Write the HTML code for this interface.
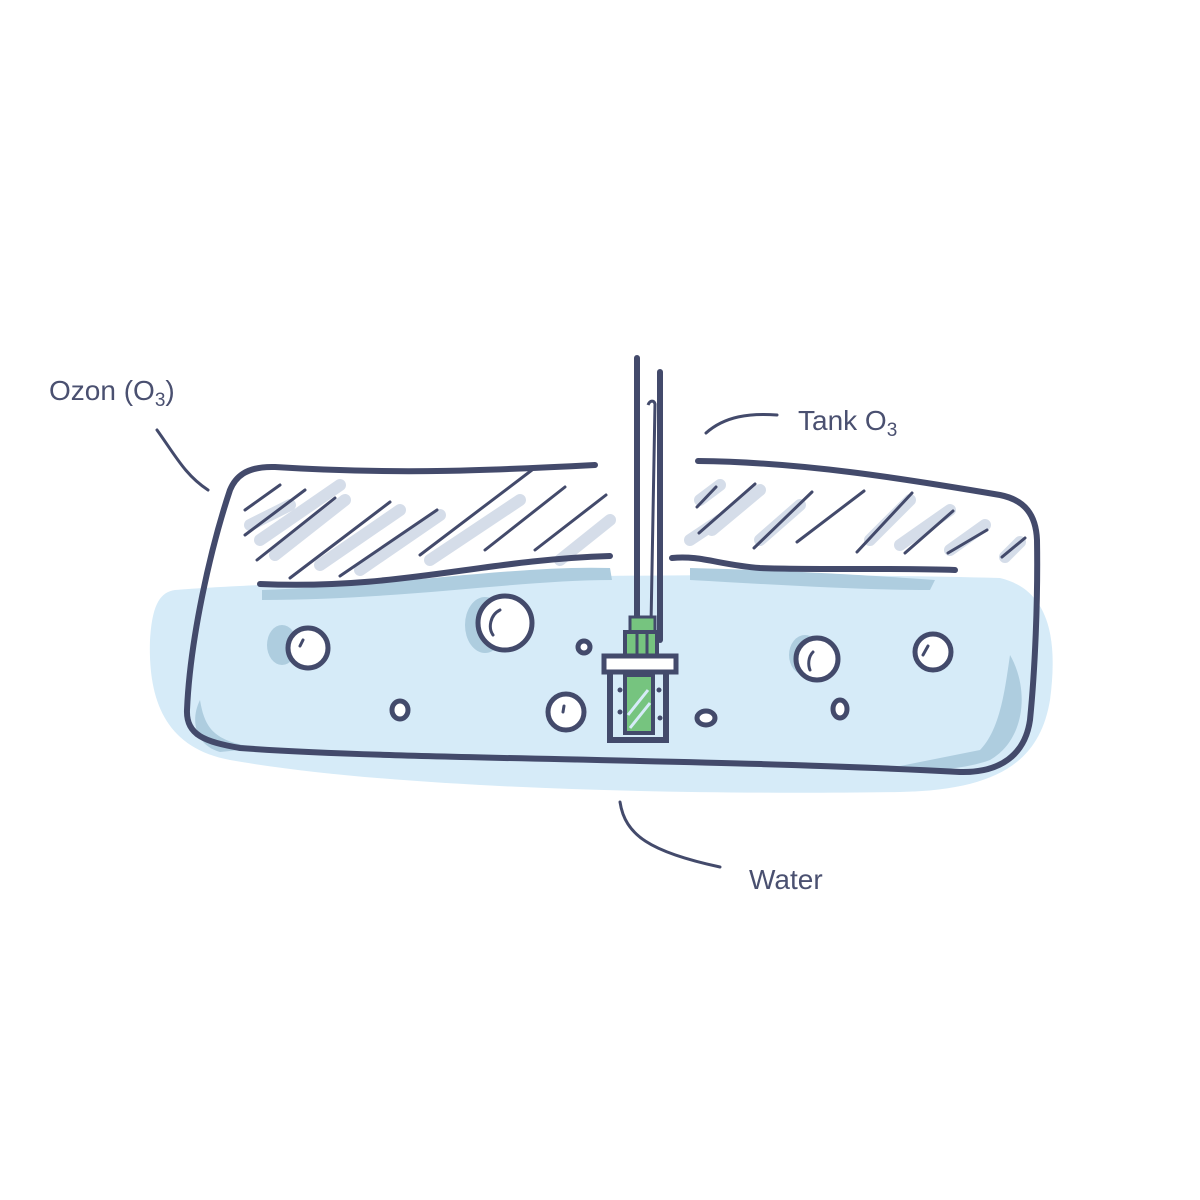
<!DOCTYPE html>
<html><head><meta charset="utf-8"><style>
html,body{margin:0;padding:0;background:#fff;}
svg{display:block}
text{font-family:"Liberation Sans",sans-serif;fill:#4a5070;}
</style></head><body>
<svg width="1200" height="1200" viewBox="0 0 1200 1200" xmlns="http://www.w3.org/2000/svg">
<!-- water fill -->
<path d="M175 590 C300 580 700 570 1000 578 C1050 590 1058 640 1050 700 C1040 760 1000 790 900 792 C700 795 400 790 230 760 C165 748 148 700 150 640 C152 605 160 592 175 590 Z" fill="#d6ebf8"/>
<!-- darker water shades -->
<path d="M262 590 C400 585 520 565 610 568 L612 580 C520 580 400 600 262 600 Z" fill="#aecddf"/>
<path d="M690 568 C780 570 880 576 935 580 L930 590 C860 590 780 585 690 580 Z" fill="#aecddf"/>
<path d="M1010 655 C1030 690 1025 740 990 760 C950 775 880 770 880 770 L980 750 C1000 730 1005 690 1010 655 Z" fill="#aecddf"/>
<path d="M200 700 C205 730 215 742 260 748 L220 752 C195 745 190 720 200 700 Z" fill="#aecddf"/>
<ellipse cx="282" cy="645" rx="15" ry="20" fill="#aecddf"/>
<ellipse cx="485" cy="625" rx="20" ry="28" fill="#aecddf"/>
<ellipse cx="805" cy="655" rx="16" ry="20" fill="#aecddf"/>
<!-- hatch shadows -->
<g stroke="#d5dde9" stroke-width="12" stroke-linecap="round" fill="none">
<path d="M250 525 L290 505"/><path d="M260 540 L340 485"/><path d="M275 555 L345 500"/>
<path d="M320 565 L400 510"/><path d="M360 570 L440 515"/><path d="M430 560 L520 500"/>
<path d="M560 560 L610 520"/><path d="M700 500 L720 485"/><path d="M712 530 L760 490"/>
<path d="M760 540 L800 505"/><path d="M870 540 L910 500"/><path d="M900 545 L950 510"/>
<path d="M950 550 L985 525"/><path d="M1005 557 L1020 542"/><path d="M690 540 L720 520"/>
</g>
<!-- hatching -->
<g stroke="#434a6b" stroke-width="3" stroke-linecap="round" fill="none">
<path d="M245 510 L280 485"/><path d="M245 535 L305 490"/><path d="M257 560 L335 498"/>
<path d="M290 578 L390 502"/><path d="M340 576 L437 510"/><path d="M420 555 L532 470"/>
<path d="M485 550 L565 487"/><path d="M535 550 L606 495"/><path d="M697 507 L716 487"/>
<path d="M699 533 L755 484"/><path d="M754 548 L812 492"/><path d="M797 542 L864 491"/>
<path d="M857 552 L912 493"/><path d="M905 553 L953 511"/><path d="M948 553 L987 530"/>
<path d="M1002 557 L1025 538"/>
</g>
<!-- tank outline -->
<g stroke="#434a6b" stroke-width="6" stroke-linecap="round" fill="none">
<path d="M595 465 C500 470 400 475 275 467 C245 466 235 478 230 490 C210 550 190 640 187 710 C186 735 205 742 240 748 C400 760 700 758 960 772 C1000 773 1025 755 1030 720 C1035 670 1038 600 1037 540 C1036 515 1025 500 1000 495 C900 478 800 462 698 461"/>
<path d="M260 584 C400 590 480 560 610 556"/>
<path d="M672 558 C700 555 720 565 760 568 C820 570 900 568 955 570"/>
<path d="M637 358 L637 640"/><path d="M660 372 L660 640"/>
</g>
<path d="M648 405 C650 400 654 400 655 404 L651 625" stroke="#434a6b" stroke-width="3" fill="none"/>
<!-- leaders -->
<g stroke="#434a6b" stroke-width="3" stroke-linecap="round" fill="none">
<path d="M157 430 C175 455 185 475 208 490"/>
<path d="M706 433 C725 416 750 413 777 415"/>
<path d="M620 802 C625 835 650 852 720 867"/>
</g>
<!-- probe -->
<rect x="630" y="617" width="25" height="15" fill="#76c47f" stroke="#434a6b" stroke-width="3"/>
<rect x="625" y="632" width="32" height="28" fill="#76c47f" stroke="#434a6b" stroke-width="4"/>
<path d="M637 632 L637 658 M647 632 L647 658" stroke="#434a6b" stroke-width="3"/>
<rect x="610" y="670" width="56" height="70" fill="#d6ebf8" stroke="#434a6b" stroke-width="6"/>
<rect x="604" y="656" width="72" height="16" fill="#fff" stroke="#434a6b" stroke-width="5"/>
<rect x="625" y="675" width="28" height="58" fill="#76c47f" stroke="#434a6b" stroke-width="4"/>
<path d="M628 715 L648 690 M630 728 L650 703" stroke="#d6ebf8" stroke-width="3"/>
<g fill="#434a6b"><circle cx="620" cy="690" r="2.5"/><circle cx="620" cy="712" r="2.5"/><circle cx="659" cy="690" r="2.5"/><circle cx="660" cy="718" r="2.5"/></g>
<!-- bubbles -->
<g stroke="#434a6b" stroke-width="5" fill="#fff">
<circle cx="308" cy="648" r="20"/><circle cx="505" cy="623" r="27"/><circle cx="584" cy="647" r="6"/>
<ellipse cx="400" cy="710" rx="8" ry="9"/><circle cx="566" cy="712" r="18"/><ellipse cx="706" cy="718" rx="9" ry="7"/>
<circle cx="817" cy="659" r="21"/><circle cx="933" cy="652" r="18"/><ellipse cx="840" cy="709" rx="7" ry="9"/>
</g>
<g stroke="#434a6b" stroke-width="3" fill="none" stroke-linecap="round">
<path d="M500 610 C490 615 488 628 493 635"/><path d="M303 640 L300 646"/><path d="M813 652 C808 657 808 665 810 670"/>
<path d="M928 646 L923 655"/><path d="M564 706 L563 712"/>
</g>
<!-- labels -->
<text x="49" y="400" font-size="28">Ozon (O<tspan font-size="19" dy="6">3</tspan><tspan dy="-6">)</tspan></text>
<text x="798" y="430" font-size="28">Tank O<tspan font-size="19" dy="6">3</tspan></text>
<text x="749" y="889" font-size="28">Water</text>
</svg>
</body></html>
